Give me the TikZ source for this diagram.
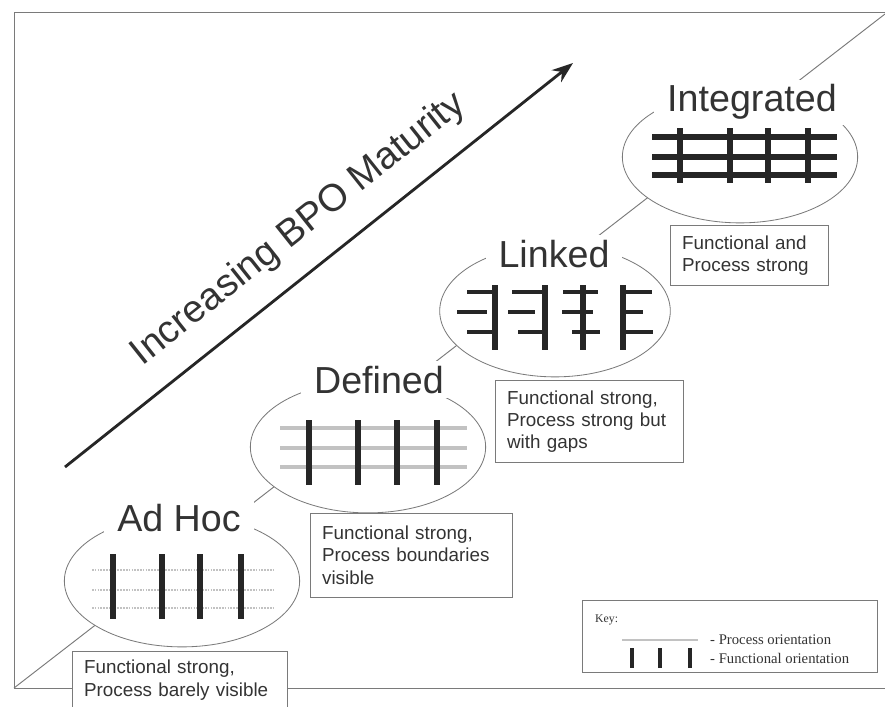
\documentclass[tikz,border=0pt]{standalone}
\usepackage{fontspec}
\setmainfont{Liberation Sans}
\newfontfamily\keyfont{Liberation Serif}
\usepackage{tikz}
\definecolor{inkgray}{HTML}{333333}
\definecolor{rimgray}{HTML}{7A7A7A}
\definecolor{procgray}{HTML}{C2C2C2}
\usetikzlibrary{positioning, arrows, arrows.meta, shapes.geometric}
\tikzstyle{arrow} = [line width=2.4pt,-{Stealth[length=18pt,width=13pt]}]

\begin{document}
\begin{tikzpicture}[x=0.85pt, y=-0.85pt]
                    \tikzstyle{every node}=[font=\fontsize{16}{19}\selectfont, text=inkgray]
                    \tikzstyle{frame} = [draw=rimgray, line width=0.8pt]
                    \tikzstyle{stage} = [ellipse, draw=rimgray, fill=white, line width=0.7pt, inner sep=0pt]
                    \tikzstyle{stagename} = [font=\fontsize{32}{36}\selectfont, fill=white, inner xsep=11pt, inner ysep=4pt, anchor=base]
                    \tikzstyle{note} = [draw=rimgray, fill=white, anchor=north west, align=left, inner xsep=10pt, line width=0.6pt]
                    \tikzstyle{keytext} = [font=\keyfont\fontsize{12.5}{14}\selectfont, inner sep=0pt]
                    \tikzstyle{func} = [line width=4.5pt, draw=black!85]
                    \tikzstyle{proc} = [line width=3.5pt, draw=procgray]
                    \tikzstyle{link} = [line width=3.6pt, draw=black!85]

                    \useasboundingbox (0,0) rectangle (885,706);
                    \fill[white] (0,0) rectangle (885,706);

                    % frame and staircase line
                    \coordinate (corner) at (14,688);
                    \coordinate (far) at (885,14);
                    \draw[frame] (corner) -- (14,12) -- (885,12);
                    \draw[frame] (corner) -- (885,688);
                    \draw[frame] (corner) -- (far);

                    % maturity arrow
                    \coordinate (low) at (65,467);
                    \coordinate (high) at (573,63);
                    \draw[arrow, draw=black!85] (low) -- node[sloped, above=18pt, inner sep=0pt, pos=0.51, font=\fontsize{32.5}{38}\selectfont](axis) {Increasing BPO Maturity} (high);

                    % ad hoc
                    \node[stage, minimum width=200pt, minimum height=112pt](adhoc) at (182,581) {};
                    \node[stagename](adhoclabel) at (179,531) {Ad Hoc};
                    \foreach \y in {570,590,608}
                        \draw[procgray, line width=1.4pt, densely dotted] (92,\y) -- (274,\y);
                    \foreach \x in {113,162,200,241}
                        \draw[func] (\x,554) -- (\x,619);
                    \node[note, text width=163pt, minimum height=49pt](adhocnote) at (72,651) {Functional strong,\\Process barely visible};

                    % defined
                    \node[stage, minimum width=200pt, minimum height=112pt](defined) at (368,447) {};
                    \node[stagename](definedlabel) at (379,393) {Defined};
                    \foreach \y in {428,448,467}
                        \draw[proc] (280,\y) -- (467,\y);
                    \foreach \x in {309,358,397,437}
                        \draw[func] (\x,420) -- (\x,485);
                    \node[note, text width=152pt, minimum height=71pt](definednote) at (310,513) {Functional strong,\\Process boundaries\\visible};

                    % linked
                    \node[stage, minimum width=196pt, minimum height=112pt](linked) at (555,311) {};
                    \node[stagename](linkedlabel) at (554,267) {Linked};
                    \foreach \x in {495,545,583,623}
                        \draw[func] (\x,285) -- (\x,350);
                    \draw[link] (467,292) -- (495,292) (457,312) -- (487,312) (467,332) -- (495,332);
                    \draw[link] (512,292) -- (545,292) (508,312) -- (535,312) (518,332) -- (545,332);
                    \draw[link] (563,292) -- (598,292) (562,312) -- (593,312) (572,332) -- (600,332);
                    \draw[link] (623,292) -- (652,292) (620,312) -- (643,312) (623,332) -- (653,332);
                    \node[note, text width=140pt, minimum height=70pt](linkednote) at (495,380) {Functional strong,\\Process strong but\\with gaps};

                    % integrated
                    \node[stage, minimum width=200pt, minimum height=112pt](integrated) at (740,157) {};
                    \node[stagename](integratedlabel) at (752,112) {Integrated};
                    \foreach \y in {137,157,175}
                        \draw[func] (652,\y) -- (837,\y);
                    \foreach \x in {680,730,768,808}
                        \draw[func] (\x,128) -- (\x,183);
                    \node[note, text width=114pt, minimum height=51pt](integratednote) at (670,225) {Functional and\\Process strong};

                    % key
                    \node[note, minimum width=251pt, minimum height=61pt](key) at (582,600) {};
                    \node[keytext, font=\keyfont\fontsize{10}{12}\selectfont, anchor=base west](keytitle) at (595,622) {Key:};
                    \draw[proc, line width=2.5pt] (622,640) -- (698,640);
                    \foreach \x in {632,660,690}
                        \draw[func, line width=3.5pt] (\x,648) -- (\x,668);
                    \node[keytext, anchor=west](prockey) at (710,640) {- Process orientation};
                    \node[keytext, anchor=west](funckey) at (710,658) {- Functional orientation};
            \end{tikzpicture}
\end{document}
